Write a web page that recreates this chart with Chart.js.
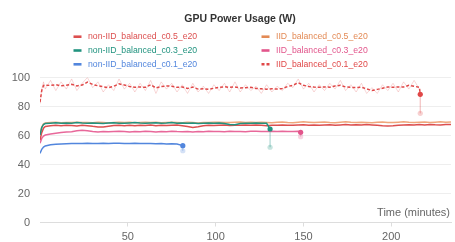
<!DOCTYPE html>
<html><head><meta charset="utf-8">
<script src="https://cdn.jsdelivr.net/npm/chart.js@4"></script>
<style>html,body{margin:0;padding:0;background:#fff;}#wrap{width:455px;height:242px;position:relative;}</style>
</head><body><div id="wrap"><canvas id="c"></canvas></div>
<script>
// sample times (minutes)
const times = [0,1,2,3,6,9,12,15,18,21,24,27,30,33,36,39,42,45,48,51,54,57,60,63,66,69,72,75,78,81,84,87,90,93,96,99,102,105,108,111,114,117,120,123,126,129,132,135,138,141,144,147,150,153,156,159,162,165,168,171,174,177,180,183,186,189,192,195,198,201,204,207,210,213,216,219,222,225,228,231,234];
const xTicks = [50,100,150,200];
const yTicks = [0,20,40,60,80,100];
const seriesNames = ['non-IID_balanced_c0.5_e20','non-IID_balanced_c0.3_e20','non-IID_balanced_c0.1_e20','IID_balanced_c0.5_e20','IID_balanced_c0.3_e20','IID_balanced_c0.1_e20'];
// time of last point of each series
const endTimes = [234, 131, 81.3, 234, 148.4, 216.5];

const nonIid05 = [56.9,62,65,66.2,66.8,67,66.7,67.1,66.9,66.6,67,66.8,66.3,65.9,65.8,66.4,66.9,67,66.7,67.1,66.8,67,66.9,67.2,66.8,67,66.9,67.1,67.3,66.8,66.2,65.6,66.1,66.7,67,66.9,67.1,67.2,66.9,67.1,67,67.3,67.1,67.2,67,66.8,67.1,67,67.3,67.1,67,67.2,67.4,67.1,67.3,67,67.2,67.4,67.1,67.3,67.5,67.2,67.4,67.2,67.5,67.3,67.1,66.8,66.6,66.7,67,67.3,67.4,67.2,67.5,67.3,67.6,67.4,67.3,67.6,67.5];
const nonIid03 = [60.3,65.5,67.6,68.2,68.5,68.8,68.4,68.7,68.5,68.9,68.6,68.4,68.7,68.5,68.2,68.6,68.8,68.5,68.4,68.7,68.9,68.6,68.5,68.7,68.8,68.4,68.6,68.9,68.5,68.7,68.4,68.6,68.3,68.5,68.6,68.4,68.6,68.2,67.6,67.5,68.2,68.5,68.4,68.6,68.5,68.4,64.5];
const nonIid01 = [47.7,50.5,52,52.8,53.6,54,54.2,54.3,54.4,54.5,54.4,54.6,54.5,54.4,54.6,54.5,54.7,54.6,54.5,54.4,54.6,54.5,54.4,54.5,54.3,54.4,54.2,54.3,54.1,53];
const iid05 = [61,66,68,68.6,68.9,69.1,68.8,69,68.9,69.2,68.9,69,68.8,69.1,68.9,68.7,69,69.2,68.9,69.1,68.8,69,69.2,68.9,69.1,68.8,69,69.2,69,68.8,69.1,68.9,68.7,69,68.9,69.1,69.2,69,68.9,69.1,69.3,69,69.2,68.9,69.1,69,68.8,69.1,69.3,69,68.8,69.1,69.4,69.2,68.9,69.1,69.3,69,68.8,69.2,69.4,69.1,68.9,69.2,69,68.8,69.1,69.3,69,68.9,69.2,69.4,69.1,68.9,69.2,69.3,69,69.2,69.4,69.1,69.3];
const iid03 = [54.6,58,59.6,60.3,61,61.6,62,62.4,62.6,63.2,63.7,63.3,62.8,62.5,62.7,62.6,62.8,62.9,62.7,62.5,62.8,62.6,62.9,62.7,62.5,62.8,62.6,62.9,62.7,62.6,62.8,62.5,62.7,62.6,62.9,62.7,62.8,62.6,62.9,62.7,62.8,62.6,62.9,63,62.8,62.7,63,62.8,62.9,62.7,62.8,62.9,62.2];
const iid01 = [83,91,94.5,94.8,94.5,95,94.3,94.6,95.3,94.2,94.8,96.8,95.2,94.3,93.6,93,94,95.6,94.8,93.8,93.2,93.5,93.2,95,92.8,93.8,94.2,94,93.2,93.5,92.4,93.4,92,92.3,91.8,92.6,93.3,93.6,93.2,93.5,92.8,93,93.2,92.4,92.2,91.9,92.3,92,92.4,93.8,94.6,96.4,94.6,93.8,93.4,93.2,93.5,93.3,94.2,94.6,93.5,93.2,93.1,93.3,92.2,91,91.8,92.6,93.4,93.3,93.5,93.4,94.6,94,93.2,88.4];
// unsmoothed readings of IID_balanced_c0.1_e20 (faint)
const iid01Raw = [82,92,97,92,98,91,97,92,99,91,96,100,93,97,90,95,91,99,92,96,90,96,91,98,89,97,92,96,90,95,89,96,90,94,89,95,91,96,90,97,90,95,91,94,89,95,90,94,91,96,93,99,92,96,90,95,91,96,92,98,91,95,90,96,89,93,89,95,91,96,90,97,92,98,92];
// last raw reading of the finished runs (faint drop)
const dropSeries = [2, 1, 4, 5];
const dropTo = [49.5, 51.9, 59.2, 75.3];

const colors = ['#dc4f4f','#21937f','#5286dd','#e38a55','#e2558b','#e04848'];
const lineColors = ['#dc4f4f','#21937f','#5286dd','rgba(236,150,100,0.85)','#e8689a','#e04848'];
const faint = ['rgba(220,79,79,0.15)','rgba(33,147,127,0.15)','rgba(82,134,221,0.15)','rgba(227,138,85,0.15)','rgba(226,85,139,0.15)','rgba(224,72,72,0.15)'];
const drawOrder = [1,0,4,2,3,5];

const allVals = [nonIid05, nonIid03, nonIid01, iid05, iid03, iid01];
function toPoints(vals, endT){
  return vals.map((v,i)=>({x: i===vals.length-1 ? endT : times[i], y: v}));
}
const datasets = allVals.map((vals, s)=>({
  label: seriesNames[s],
  data: toPoints(vals, endTimes[s]),
  borderColor: lineColors[s],
  backgroundColor: lineColors[s],
  legendColor: colors[s],
  borderWidth: 1.5,
  borderDash: s===5 ? [3,2] : [],
  pointRadius: vals.map((v,i)=> (i===vals.length-1 && endTimes[s] < 234) ? 2.6 : 0),
  pointBorderWidth: 0,
  pointBackgroundColor: colors[s],
  tension: 0,
  order: drawOrder[s]
}));
datasets.push({
  label: '', isRaw: true,
  data: iid01Raw.map((v,i)=>({x: times[i], y: v})),
  borderColor: 'rgba(224,72,72,0.22)', borderWidth: 1, pointRadius: 0, order: 20, tension: 0
});
dropSeries.forEach((s, j)=>{
  const vals = allVals[s];
  datasets.push({
    label: '', isRaw: true,
    data: [{x: endTimes[s], y: vals[vals.length-1]}, {x: endTimes[s], y: dropTo[j]}],
    borderColor: faint[s], borderWidth: 1,
    pointRadius: [0, 2.6], pointBorderWidth: 0,
    pointBackgroundColor: faint[s].replace('0.15)', '0.25)'),
    order: 20
  });
});

const FONT = '"Liberation Sans", Arial, Helvetica, sans-serif';
const extras = {
  id: 'extras',
  afterLayout(chart){
    if (chart.titleBlock){ chart.titleBlock.left += 12.5; chart.titleBlock.right += 12.5; }
  },
  afterDraw(chart){
    const ctx = chart.ctx;
    ctx.save();
    ctx.font = '8.7px ' + FONT;
    ctx.textBaseline = 'middle';
    ctx.textAlign = 'left';
    chart.data.datasets.forEach((ds, i)=>{
      if (ds.isRaw) return;
      const col = i < 3 ? 0 : 1, row = i % 3;
      const mx = col ? 265.5 : 77.5;
      const y = 36.7 + row * 13.8;
      ctx.strokeStyle = ds.legendColor; ctx.lineWidth = 2.6;
      ctx.setLineDash(ds.borderDash.length ? [3,2] : []);
      ctx.beginPath(); ctx.moveTo(mx-4, y); ctx.lineTo(mx+4, y); ctx.stroke();
      ctx.setLineDash([]);
      ctx.fillStyle = ds.legendColor;
      ctx.fillText(ds.label, mx + 10.5, y);
    });
    ctx.font = '11px ' + FONT;
    ctx.fillStyle = '#666';
    ctx.textAlign = 'right';
    ctx.fillText('Time (minutes)', chart.chartArea.right - 1, 212.5);
    ctx.restore();
  }
};

new Chart(document.getElementById('c'), {
  type: 'line',
  data: { datasets },
  plugins: [extras],
  options: {
    responsive: true, maintainAspectRatio: false, animation: false,
    layout: { padding: 0 },
    plugins: {
      legend: { display: false },
      tooltip: { enabled: false },
      title: {
        display: true, text: 'GPU Power Usage (W)', color: '#333',
        font: { family: FONT, size: 10.5, weight: 'bold' },
        padding: { top: 12.7, bottom: 52.2 }
      }
    },
    scales: {
      x: {
        type: 'linear', min: 0, max: 234,
        afterBuildTicks: axis => { axis.ticks = xTicks.map(v=>({value: v})); },
        afterFit: axis => { axis.height = 19.5; },
        grid: { drawOnChartArea: false, drawTicks: true, tickLength: 4, color: '#ddd' },
        border: { color: '#ddd' },
        ticks: { color: '#666', padding: 4, font: { family: FONT, size: 11 }, maxRotation: 0 }
      },
      y: {
        min: 0, max: 100,
        afterBuildTicks: axis => { axis.ticks = yTicks.map(v=>({value: v})); },
        afterFit: axis => { axis.width = 40; },
        grid: { color: '#eee', drawTicks: false },
        border: { display: false },
        ticks: { color: '#666', padding: 10, font: { family: FONT, size: 11 } }
      }
    }
  }
});
</script>
</body></html>
